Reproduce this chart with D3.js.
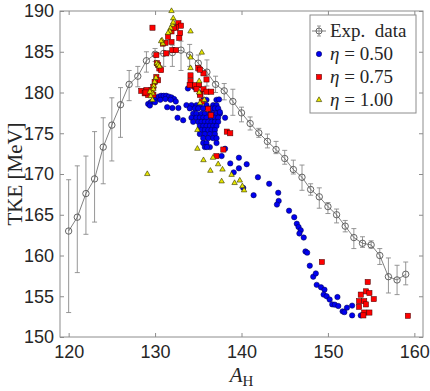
<!DOCTYPE html>
<html>
<head>
<meta charset="utf-8">
<script src="https://cdn.jsdelivr.net/npm/d3@7"></script>
<style>
  body { margin: 0; background: #fff; }
  svg { display: block; font-family: 'Liberation Serif', 'DejaVu Serif', serif; }
</style>
</head>
<body>
<svg id="chart" width="430" height="391"></svg>
<script>
// experimental TKE vs heavy fragment mass
const expA = [120, 121, 122, 123, 124, 125, 126, 127, 128, 129, 130, 131, 132, 133, 134, 135, 136, 137, 138, 139,
  140, 141, 142, 143, 144, 145, 146, 147, 148, 149, 150, 151, 152, 153, 154, 155, 156, 157, 158, 159];
const expTKE = [163.0, 164.7, 167.6, 169.4, 173.3, 176.0, 178.5, 181.0, 182.0, 183.9, 184.7, 184.8, 184.9, 185.2, 184.6, 183.6, 182.5, 181.0, 180.2, 178.9,
  177.5, 176.2, 175.05, 174.0, 173.0, 171.9, 170.55, 169.6, 168.1, 167.2, 166.0, 165.0, 163.6, 162.2, 161.5, 161.3, 160.0, 157.4, 157.0, 157.7];
const expLow = [153.0, 157.9, 162.6, 164.1, 168.8, 171.6, 174.5, 179.0, 180.7, 182.5, 183.8, 183.2, 183.2, 182.7, 183.2, 182.6, 180.8, 180.0, 179.1, 177.2,
  176.4, 175.4, 174.5, 173.2, 172.5, 171.2, 170.0, 168.0, 167.4, 165.8, 165.15, 164.0, 162.9, 160.85, 161.0, 160.9, 158.9, 155.4, 155.2, 156.4];
const expHigh = [169.3, 171.0, 172.2, 175.2, 176.9, 179.35, 180.6, 182.7, 183.2, 185.0, 185.4, 185.8, 185.8, 186.3, 185.9, 184.6, 184.0, 182.0, 181.1, 180.4,
  178.2, 177.0, 175.6, 174.9, 174.0, 172.9, 171.7, 171.1, 168.8, 168.3, 166.5, 165.7, 164.3, 163.3, 162.3, 161.8, 160.85, 159.7, 158.8, 159.2];

// simulations [A_H, TKE]
const eta050 = [
  [129.2, 178.6], [129.5, 178.8], [129.8, 179.0], [130.1, 179.3], [130.4, 179.5], [130.7, 179.6], [131.0, 179.6], [131.3, 179.6],
  [131.6, 179.5], [131.9, 179.4], [132.2, 179.2], [132.4, 178.9], [130.0, 178.8], [130.6, 179.1], [131.2, 179.2], [131.8, 179.1],
  [129.4, 178.4], [132.0, 178.1], [132.6, 176.9], [133.25, 176.6], [131.4, 178.2], [132.7, 178.1],
  [133.8, 180.5], [134.6, 180.6], [135.2, 179.9], [135.6, 179.1], [135.95, 179.1], [137.1, 179.1], [137.4, 179.15],
  [133.63, 178.45], [134.21, 178.45], [134.79, 178.45], [135.18, 178.45], [135.95, 178.45], [136.72, 178.45], [137.11, 178.45],
  [134.02, 178.05], [134.6, 178.05], [134.99, 178.05], [135.57, 178.05], [136.15, 178.05], [136.53, 178.05], [136.92, 178.05], [137.3, 178.05],
  [134.41, 177.4], [134.79, 177.4], [135.37, 177.4], [135.76, 177.4], [136.34, 177.4], [136.72, 177.4], [137.11, 177.4], [137.5, 177.4],
  [134.21, 176.9], [134.79, 176.9], [135.18, 176.9], [135.57, 176.9], [135.95, 176.9], [136.53, 176.9], [136.92, 176.9], [137.3, 176.9],
  [134.41, 176.4], [134.99, 176.4], [135.37, 176.4], [135.76, 176.4], [136.15, 176.4], [136.53, 176.4], [136.92, 176.4], [137.3, 176.4],
  [135.18, 175.9], [135.57, 175.9], [135.95, 175.9], [136.34, 175.9], [136.72, 175.9], [137.11, 175.9],
  [135.37, 175.4], [135.76, 175.4], [136.15, 175.4], [136.53, 175.4], [136.92, 175.4],
  [135.18, 174.9], [135.76, 174.9], [136.34, 174.9], [136.92, 174.9],
  [135.57, 174.4], [136.15, 174.4], [136.72, 174.4], [137.11, 174.4],
  [135.57, 173.8], [135.95, 173.8], [137.11, 173.8], [135.76, 173.3], [136.34, 173.3], [136.0, 173.3],
  [137.5, 177.6], [138.1, 176.9], [137.7, 172.2], [138.1, 173.1], [139.7, 172.0], [140.6, 171.2], [138.7, 171.3], [139.1, 170.2],
  [139.7, 170.7], [141.9, 169.6], [143.2, 168.8], [140.2, 168.3], [141.4, 167.4], [144.25, 167.7], [144.3, 166.7], [144.1, 166.25],
  [145.5, 165.5], [146.1, 164.7], [146.4, 163.9], [146.6, 163.5], [146.85, 163.1], [146.7, 162.7], [147.2, 162.2], [147.4, 160.5],
  [147.6, 160.35], [147.9, 158.75], [148.3, 157.4], [148.6, 157.8], [148.7, 156.4], [149.2, 156.1], [149.6, 155.8], [149.5, 155.2],
  [149.85, 155.0], [150.2, 154.6], [151.1, 154.9], [150.5, 154.0], [150.8, 153.97], [151.2, 153.8], [151.7, 153.15], [151.9, 153.05],
  [152.2, 153.6], [152.8, 153.85], [152.8, 152.65], [153.8, 152.65]
];
const eta075 = [
  [129.7, 187.95], [132.7, 188.5], [132.9, 187.3], [132.8, 186.7], [131.9, 187.5], [131.5, 186.85], [130.9, 186.0], [131.2, 186.1],
  [131.9, 186.2], [131.3, 184.8], [132.0, 185.2], [132.4, 185.2], [130.15, 184.6], [130.2, 183.6], [130.35, 183.4], [130.5, 182.95],
  [130.7, 182.75], [130.15, 181.9], [130.35, 181.5], [129.95, 181.3], [129.8, 180.7], [129.6, 180.3], [129.0, 180.3], [128.4, 180.2],
  [128.8, 179.9], [129.2, 179.7], [128.9, 180.0], [129.8, 179.7], [132.4, 188.0], [132.2, 187.9], [133.0, 188.2],
  [134.1, 182.1], [135.0, 183.0], [135.6, 182.35], [135.95, 181.6], [134.1, 181.4], [134.5, 180.8], [134.6, 180.9], [135.1, 180.9],
  [135.6, 180.4], [134.8, 180.4], [135.95, 180.1], [136.5, 180.1], [135.25, 179.8], [135.4, 178.9], [136.15, 178.0], [136.45, 177.2],
  [138.3, 175.2], [138.7, 175.0], [137.9, 173.0], [137.1, 172.2], [135.2, 182.8], [134.0, 180.9], [135.2, 179.7],
  [149.3, 159.2], [154.6, 156.75], [153.8, 155.2], [154.4, 155.6], [154.8, 155.4], [155.3, 154.65], [153.6, 154.4], [154.2, 154.4],
  [154.4, 154.0], [153.6, 153.7], [154.2, 153.0], [154.8, 153.0], [154.1, 152.65], [159.25, 152.6]
];
const eta100 = [
  [131.9, 190.0], [132.1, 189.1], [132.0, 188.3], [131.8, 187.9], [131.7, 187.5], [132.1, 188.6], [131.5, 187.3], [130.8, 186.4],
  [130.9, 186.0], [130.7, 186.3], [130.2, 183.6], [130.35, 183.4], [130.5, 183.2], [130.1, 181.8], [129.95, 181.3], [129.85, 180.8],
  [129.8, 180.4], [129.7, 179.9], [129.5, 179.55], [129.7, 179.1], [129.4, 180.1],
  [134.1, 187.5], [135.4, 184.9], [134.1, 184.3], [134.1, 183.0], [135.1, 180.0], [135.7, 179.1], [135.1, 181.4], [129.1, 170.0],
  [134.9, 175.4], [134.9, 173.1], [135.6, 171.7], [136.7, 172.0], [137.3, 171.2], [136.4, 170.4], [137.8, 170.55], [137.7, 169.1],
  [138.85, 169.9], [139.2, 168.9], [139.8, 169.2], [140.1, 168.5], [140.3, 168.0], [135.2, 178.7]
];

const xTicks = [120, 130, 140, 150, 160];
const yTicks = [150, 155, 160, 165, 170, 175, 180, 185, 190];
const legendLabels = ['Exp.\u2002data', '0.50', '0.75', '1.00'];

const margin = { top: 11, right: 7, bottom: 54, left: 60 };
const width = 430;
const height = 391;
const graphW = width - margin.left - margin.right;
const graphH = height - margin.top - margin.bottom;

const svg = d3.select('#chart');
const g = svg.append('g').attr('transform', `translate(${margin.left},${margin.top})`);

const xScale = d3.scaleLinear().domain([119, 161]).range([0, graphW]);
const yScale = d3.scaleLinear().domain([150, 190]).range([graphH, 0]);

const tickColor = '#262626';
const frameColor = '#8c8c8c';

function styleAxis(sel) {
  sel.select('.domain').remove();
  sel.selectAll('line').attr('stroke', frameColor);
  sel.selectAll('text').attr('fill', tickColor).attr('font-size', 18);
}

g.append('g')
  .attr('transform', `translate(0,${graphH})`)
  .call(d3.axisBottom(xScale).tickValues(xTicks).tickSizeInner(-4).tickSizeOuter(0).tickPadding(8))
  .call(styleAxis);
g.append('g')
  .call(d3.axisTop(xScale).tickValues(xTicks).tickSizeInner(-4).tickSizeOuter(0).tickFormat(''))
  .call(styleAxis);
g.append('g')
  .call(d3.axisLeft(yScale).tickValues(yTicks).tickSizeInner(-4).tickSizeOuter(0).tickPadding(6))
  .call(styleAxis);
g.append('g')
  .attr('transform', `translate(${graphW},0)`)
  .call(d3.axisRight(yScale).tickValues(yTicks).tickSizeInner(-4).tickSizeOuter(0).tickFormat(''))
  .call(styleAxis);

g.append('rect')
  .attr('width', graphW)
  .attr('height', graphH)
  .attr('fill', 'none')
  .attr('stroke', frameColor)
  .attr('stroke-width', 1);

// experimental data with error bars
const expData = expA.map((a, i) => ({ a, t: expTKE[i], lo: expLow[i], hi: expHigh[i] }));
const errColor = '#8a8a8a';
const capW = 2.5;

const errs = g.append('g').attr('stroke', errColor).attr('stroke-width', 0.9);
expData.forEach(d => {
  const x = xScale(d.a);
  errs.append('line').attr('x1', x).attr('x2', x).attr('y1', yScale(d.lo)).attr('y2', yScale(d.hi));
  errs.append('line').attr('x1', x - capW).attr('x2', x + capW).attr('y1', yScale(d.lo)).attr('y2', yScale(d.lo));
  errs.append('line').attr('x1', x - capW).attr('x2', x + capW).attr('y1', yScale(d.hi)).attr('y2', yScale(d.hi));
});

g.append('path')
  .datum(expData)
  .attr('fill', 'none')
  .attr('stroke', '#606060')
  .attr('stroke-width', 0.8)
  .attr('d', d3.line().x(d => xScale(d.a)).y(d => yScale(d.t)));

g.selectAll('circle.exp')
  .data(expData)
  .enter()
  .append('circle')
  .attr('class', 'exp')
  .attr('cx', d => xScale(d.a))
  .attr('cy', d => yScale(d.t))
  .attr('r', 3.2)
  .attr('fill', 'none')
  .attr('stroke', '#555')
  .attr('stroke-width', 0.9);

// simulation markers
const blueStyle = { fill: '#0000f0', stroke: '#000040' };
const redStyle = { fill: '#ff0000', stroke: '#400000' };
const yellowStyle = { fill: '#e6e600', stroke: '#333300' };

g.selectAll('circle.eta050')
  .data(eta050)
  .enter()
  .append('circle')
  .attr('class', 'eta050')
  .attr('cx', d => xScale(d[0]))
  .attr('cy', d => yScale(d[1]))
  .attr('r', 2.7)
  .attr('fill', blueStyle.fill)
  .attr('stroke', blueStyle.stroke)
  .attr('stroke-width', 0.5);

g.selectAll('rect.eta075')
  .data(eta075)
  .enter()
  .append('rect')
  .attr('class', 'eta075')
  .attr('x', d => xScale(d[0]) - 2.6)
  .attr('y', d => yScale(d[1]) - 2.6)
  .attr('width', 5.2)
  .attr('height', 5.2)
  .attr('fill', redStyle.fill)
  .attr('stroke', redStyle.stroke)
  .attr('stroke-width', 0.5);

const tri = d3.symbol().type(d3.symbolTriangle).size(13);
g.selectAll('path.eta100')
  .data(eta100)
  .enter()
  .append('path')
  .attr('class', 'eta100')
  .attr('transform', d => `translate(${xScale(d[0])},${yScale(d[1])})`)
  .attr('d', tri)
  .attr('fill', yellowStyle.fill)
  .attr('stroke', yellowStyle.stroke)
  .attr('stroke-width', 0.6);

// axis labels
svg.append('text')
  .attr('transform', `translate(22,${margin.top + graphH / 2}) rotate(-90)`)
  .attr('text-anchor', 'middle')
  .attr('font-size', 21)
  .attr('fill', tickColor)
  .text('TKE [MeV]');

const xl = svg.append('text')
  .attr('x', margin.left + graphW / 2)
  .attr('y', 382)
  .attr('text-anchor', 'middle')
  .attr('font-size', 21)
  .attr('fill', tickColor);
xl.append('tspan').attr('font-style', 'italic').text('A');
xl.append('tspan').attr('font-size', 15).attr('dy', 4).text('H');

// legend
const legend = svg.append('g').attr('transform', 'translate(310,15)');
legend.append('rect')
  .attr('width', 106)
  .attr('height', 98)
  .attr('fill', '#fff')
  .attr('stroke', frameColor)
  .attr('stroke-width', 1);

const rowY = [16, 39, 62, 85];
const markX = 9;
const textX = 20;

legend.append('line').attr('x1', 2).attr('x2', 16).attr('y1', rowY[0]).attr('y2', rowY[0])
  .attr('stroke', '#606060').attr('stroke-width', 0.8);
legend.append('line').attr('x1', markX).attr('x2', markX).attr('y1', rowY[0] - 5).attr('y2', rowY[0] + 5)
  .attr('stroke', errColor).attr('stroke-width', 0.9);
[-5, 5].forEach(o => legend.append('line')
  .attr('x1', markX - 2).attr('x2', markX + 2).attr('y1', rowY[0] + o).attr('y2', rowY[0] + o)
  .attr('stroke', errColor).attr('stroke-width', 0.9));
legend.append('circle').attr('cx', markX).attr('cy', rowY[0]).attr('r', 3)
  .attr('fill', 'none').attr('stroke', '#555').attr('stroke-width', 0.9);

legend.append('circle').attr('cx', markX).attr('cy', rowY[1]).attr('r', 2.7)
  .attr('fill', blueStyle.fill).attr('stroke', blueStyle.stroke).attr('stroke-width', 0.5);
legend.append('rect').attr('x', markX - 2.6).attr('y', rowY[2] - 2.6).attr('width', 5.2).attr('height', 5.2)
  .attr('fill', redStyle.fill).attr('stroke', redStyle.stroke).attr('stroke-width', 0.5);
legend.append('path').attr('transform', `translate(${markX},${rowY[3]})`).attr('d', tri)
  .attr('fill', yellowStyle.fill).attr('stroke', yellowStyle.stroke).attr('stroke-width', 0.6);

legendLabels.forEach((lab, i) => {
  const t = legend.append('text')
    .attr('x', textX)
    .attr('y', rowY[i] + 6)
    .attr('font-size', 19)
    .attr('fill', tickColor);
  if (i === 0) {
    t.text(lab);
  } else {
    t.append('tspan').attr('font-style', 'italic').text('\u03b7');
    t.append('tspan').text(' = ' + lab);
  }
});
</script>
</body>
</html>
